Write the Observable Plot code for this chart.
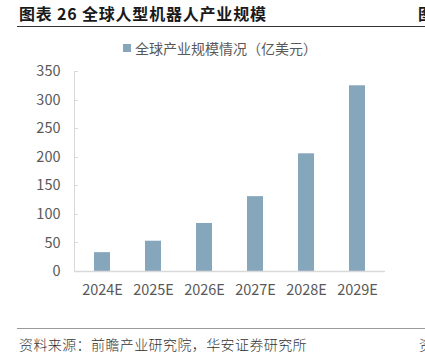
<!DOCTYPE html>
<html>
<head>
<meta charset="utf-8">
<script src="https://cdn.jsdelivr.net/npm/d3@7"></script>
<script src="https://cdn.jsdelivr.net/npm/@observablehq/plot@0.6"></script>
<style>
  html, body { margin: 0; padding: 0; background: #fff; }
  #wrap { position: relative; width: 425px; height: 357px; overflow: hidden; font-family: "Noto Sans CJK SC", "Noto Sans", sans-serif; }
  .abs { position: absolute; white-space: nowrap; }
  #title { left: 19px; top: 2px; font-size: 16px; font-weight: 700; color: #1a1a1a; line-height: 22px; letter-spacing: 0.8px; }
  #title2 { left: 418px; top: 2px; font-size: 16px; font-weight: 700; color: #1a1a1a; line-height: 22px; }
  #topline { left: 17px; top: 26px; width: 408px; height: 0; border-top: 1.5px solid #333; }
  #legend { left: 123px; top: 38px; font-size: 14px; color: #595959; line-height: 20px; display: flex; align-items: center; }
  #legend .sw { width: 8px; height: 8px; margin-right: 4px; }
  #chart { left: 0; top: 60px; }
  #botline { left: 17px; top: 328px; width: 408px; height: 0; border-top: 1.5px solid #9a9a9a; }
  #foot { left: 19px; top: 334px; font-size: 14px; color: #333; font-weight: 300; line-height: 20px; letter-spacing: 0.4px; }
  #foot2 { left: 419px; top: 334px; font-size: 14px; color: #333; font-weight: 300; line-height: 20px; }
</style>
</head>
<body>
<div id="wrap">
  <div id="title" class="abs"></div>
  <div id="title2" class="abs"></div>
  <div id="topline" class="abs"></div>
  <div id="legend" class="abs"></div>
  <div id="chart" class="abs"></div>
  <div id="botline" class="abs"></div>
  <div id="foot" class="abs"></div>
  <div id="foot2" class="abs"></div>
</div>
<script>
const titleText = "图表 26 全球人型机器人产业规模";
const nextTitleText = "图";
const seriesName = "全球产业规模情况（亿美元）";
const sourceText = "资料来源：前瞻产业研究院，华安证券研究所";
const nextSourceText = "资";
const years = ["2024E", "2025E", "2026E", "2027E", "2028E", "2029E"];
const values = [33, 53, 84, 131, 206, 325];
const yTicks = [0, 50, 100, 150, 200, 250, 300, 350];
const barColor = "#86a6bc";
const axisColor = "#d9d9d9";
const labelColor = "#595959";

document.getElementById("title").textContent = titleText;
document.getElementById("title2").textContent = nextTitleText;
document.getElementById("foot").textContent = sourceText;
document.getElementById("foot2").textContent = nextSourceText;
const lg = document.getElementById("legend");
const sw = document.createElement("span");
sw.className = "sw"; sw.style.background = barColor;
const lt = document.createElement("span");
lt.textContent = seriesName;
lg.appendChild(sw); lg.appendChild(lt);

const data = years.map((y, i) => ({year: y, value: values[i]}));

const axisLines = (index, scales, vals, dims) => {
  const g = d3.create("svg:g");
  const x0 = dims.marginLeft;
  const x1 = dims.width - dims.marginRight;
  const yb = scales.y(0);
  const yt = scales.y(350);
  g.append("line").attr("x1", x0 + 0.5).attr("x2", x0 + 0.5).attr("y1", yt).attr("y2", yb)
    .attr("stroke", axisColor).attr("stroke-width", 1);
  for (const t of yTicks) {
    g.append("line").attr("x1", x0).attr("x2", x0 + 4)
      .attr("y1", Math.round(scales.y(t)) + 0.5).attr("y2", Math.round(scales.y(t)) + 0.5)
      .attr("stroke", axisColor).attr("stroke-width", 1);
  }
  g.append("line").attr("x1", x0).attr("x2", x1).attr("y1", yb + 0.5).attr("y2", yb + 0.5)
    .attr("stroke", axisColor).attr("stroke-width", 1.5);
  return g.node();
};

const chart = Plot.plot({
  width: 425,
  height: 250,
  marginLeft: 74,
  marginRight: 40,
  marginTop: 11,
  marginBottom: 39,
  style: {fontFamily: "'Noto Sans CJK SC', 'Noto Sans', sans-serif", background: "transparent"},
  x: {domain: years, paddingInner: 0.69, paddingOuter: 0.345, label: null},
  y: {domain: [0, 350], label: null},
  marks: [
    Plot.barY(data, {x: "year", y: "value", fill: barColor}),
    axisLines,
    Plot.axisY({ticks: yTicks, tickSize: 0, tickPadding: 14, fontSize: 14.5, color: labelColor, label: null}),
    Plot.axisX({tickSize: 0, tickPadding: 13, fontSize: 14.5, color: labelColor, label: null})
  ]
});
document.getElementById("chart").appendChild(chart);
</script>
</body>
</html>
